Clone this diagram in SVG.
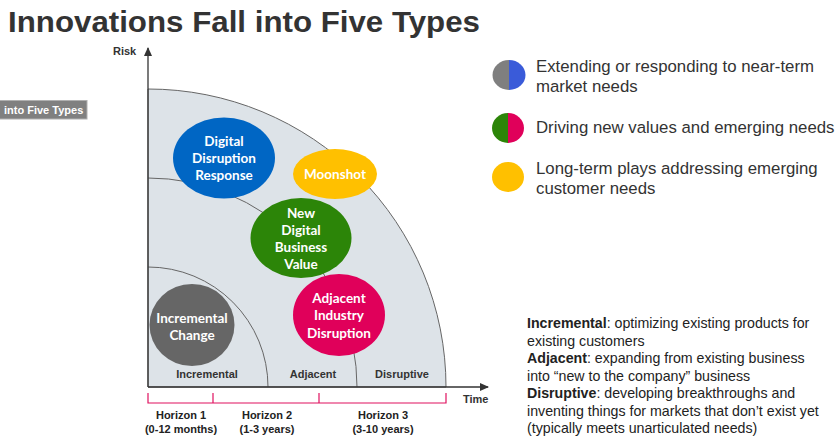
<svg xmlns="http://www.w3.org/2000/svg" width="838" height="443" viewBox="0 0 838 443">
<defs>
<style>
.title{font-family:"Liberation Sans",Arial,sans-serif;font-weight:bold;font-size:30px;fill:#333}
.ax{font-family:"Liberation Sans",Arial,sans-serif;font-weight:bold;font-size:11px;fill:#333}
.zone{font-family:"Liberation Sans",Arial,sans-serif;font-weight:bold;font-size:11px;fill:#333;text-anchor:middle}
.hz{font-family:"Liberation Sans",Arial,sans-serif;font-weight:bold;font-size:11px;fill:#222;text-anchor:middle}
.bt{font-family:Lato,"Open Sans",sans-serif;font-weight:bold;font-size:13.5px;fill:#fff;text-anchor:middle}
.lg{font-family:"Liberation Sans",Arial,sans-serif;font-size:16.8px;fill:#333}
.desc{font-family:"Liberation Sans",Arial,sans-serif;font-size:14.2px;fill:#222}
.arc{fill:none;stroke:#666;stroke-width:1}
.tick{stroke:#e0115f;stroke-width:1.2;fill:none}
</style>
<marker id="ah" markerWidth="10" markerHeight="10" refX="8" refY="4" orient="auto" markerUnits="userSpaceOnUse">
<path d="M0,0 L9,4 L0,8 Z" fill="#333"/>
</marker>
</defs>
<rect width="838" height="443" fill="#fff"/>
<text class="title" x="8" y="32" textLength="472" lengthAdjust="spacingAndGlyphs">Innovations Fall into Five Types</text>
<g id="side-label">
<rect x="-1" y="100.5" width="88" height="18.5" fill="#808080" stroke="#b0b0b0"/>
<text x="4" y="114" font-family="Liberation Sans,Arial,sans-serif" font-weight="bold" font-size="11" fill="#fff">into Five Types</text>
</g>
<g id="zones">
<path d="M148,387 L148,89 A298,298 0 0 1 446,387 Z" fill="#dde3e8" stroke="#666" stroke-width="1"/>
<path class="arc" d="M148,178 A209,209 0 0 1 357,387"/>
<path class="arc" d="M148,267 A120,120 0 0 1 268,387"/>
<text class="zone" x="207" y="378">Incremental</text>
<text class="zone" x="313" y="378">Adjacent</text>
<text class="zone" x="402" y="378">Disruptive</text>
</g>
<g id="connectors">
<line x1="148" y1="387" x2="148" y2="48" stroke="#333" stroke-width="1.3" marker-end="url(#ah)"/>
<line x1="148" y1="387" x2="488" y2="387" stroke="#333" stroke-width="1.3" marker-end="url(#ah)"/>
<path class="tick" d="M148,393 V403 H446 V393 M213,393 V403 M319,393 V403"/>
</g>
<text class="ax" x="113" y="55">Risk</text>
<text class="ax" x="463" y="403">Time</text>
<g id="horizons">
<text class="hz" x="181" y="419">Horizon 1</text>
<text class="hz" x="181" y="433">(0-12 months)</text>
<text class="hz" x="267" y="419">Horizon 2</text>
<text class="hz" x="267" y="433">(1-3 years)</text>
<text class="hz" x="383" y="419">Horizon 3</text>
<text class="hz" x="383" y="433">(3-10 years)</text>
</g>
<g id="digital-disruption-response">
<ellipse cx="224" cy="158" rx="51" ry="40.5" fill="#0066c4"/>
<text class="bt" x="224" y="146">Digital</text>
<text class="bt" x="224" y="163">Disruption</text>
<text class="bt" x="224" y="180">Response</text>
</g>
<g id="moonshot">
<ellipse cx="335" cy="174" rx="42" ry="25" fill="#ffc000"/>
<text class="bt" x="335" y="179">Moonshot</text>
</g>
<g id="new-digital-business-value">
<ellipse cx="301" cy="238" rx="50.5" ry="40" fill="#2c8508"/>
<text class="bt" x="301" y="217.5">New</text>
<text class="bt" x="301" y="234.5">Digital</text>
<text class="bt" x="301" y="251.5">Business</text>
<text class="bt" x="301" y="268.5">Value</text>
</g>
<g id="adjacent-industry-disruption">
<ellipse cx="339" cy="315" rx="46" ry="41" fill="#e0005a"/>
<text class="bt" x="339" y="302.5">Adjacent</text>
<text class="bt" x="339" y="320">Industry</text>
<text class="bt" x="339" y="337.5">Disruption</text>
</g>
<g id="incremental-change">
<ellipse cx="192" cy="325" rx="42.5" ry="41" fill="#666"/>
<text class="bt" x="192" y="322.5">Incremental</text>
<text class="bt" x="192" y="339.5">Change</text>
</g>
<g id="legend-1">
<path d="M509,60 A16.5,15 0 0 0 509,90 Z" fill="#7f7f7f"/>
<path d="M509,60 A16.5,15 0 0 1 509,90 Z" fill="#3a5bd9"/>
<text class="lg" x="536" y="72">Extending or responding to near-term</text>
<text class="lg" x="536" y="92">market needs</text>
</g>
<g id="legend-2">
<path d="M508,113 A16,15 0 0 0 508,143 Z" fill="#2c8508"/>
<path d="M508,113 A16,15 0 0 1 508,143 Z" fill="#e0005a"/>
<text class="lg" x="536" y="133">Driving new values and emerging needs</text>
</g>
<g id="legend-3">
<ellipse cx="508" cy="177" rx="16" ry="15" fill="#ffc000"/>
<text class="lg" x="536" y="174">Long-term plays addressing emerging</text>
<text class="lg" x="536" y="194">customer needs</text>
</g>
<g id="description">
<text class="desc" x="527" y="328"><tspan font-weight="bold">Incremental</tspan>: optimizing existing products for</text>
<text class="desc" x="527" y="346">existing customers</text>
<text class="desc" x="527" y="363"><tspan font-weight="bold">Adjacent</tspan>: expanding from existing business</text>
<text class="desc" x="527" y="381">into “new to the company” business</text>
<text class="desc" x="527" y="398"><tspan font-weight="bold">Disruptive</tspan>: developing breakthroughs and</text>
<text class="desc" x="527" y="416">inventing things for markets that don’t exist yet</text>
<text class="desc" x="527" y="433">(typically meets unarticulated needs)</text>
</g>
</svg>
